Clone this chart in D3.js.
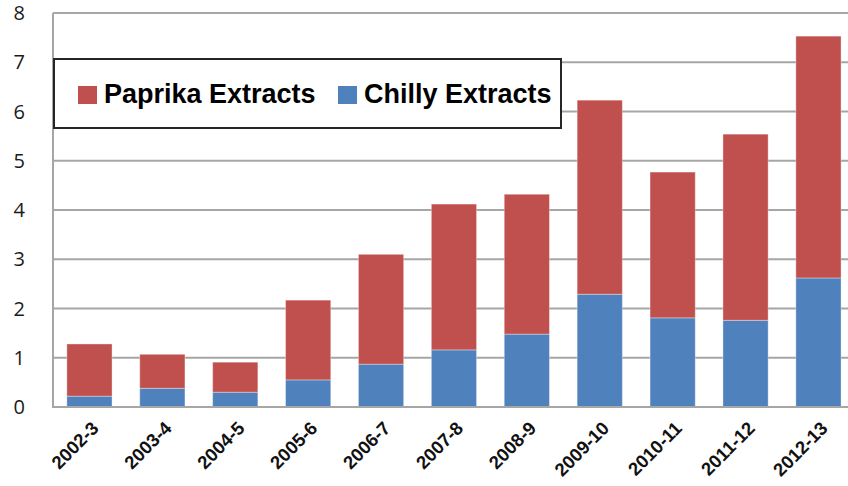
<!DOCTYPE html>
<html>
<head>
<meta charset="utf-8">
<script src="https://cdn.jsdelivr.net/npm/d3@7/dist/d3.min.js"></script>
<style>
  html, body { margin: 0; padding: 0; background: #fff; }
  svg { display: block; }
</style>
</head>
<body>
<svg id="chart" width="848" height="486"></svg>
<script>
// Annual extract volumes, split into chilly and paprika portions (stacked)
const years = ["2002-3", "2003-4", "2004-5", "2005-6", "2006-7", "2007-8",
               "2008-9", "2009-10", "2010-11", "2011-12", "2012-13"];
const chillyValues  = [0.22, 0.38, 0.30, 0.55, 0.87, 1.16, 1.48, 2.29, 1.81, 1.76, 2.62];
const paprikaValues = [1.06, 0.69, 0.61, 1.62, 2.23, 2.96, 2.84, 3.94, 2.96, 3.78, 4.91];
const yTicks = [0, 1, 2, 3, 4, 5, 6, 7, 8];
const seriesNames = ["Paprika Extracts", "Chilly Extracts"];

const W = 848, H = 486;
const plotLeft = 53, plotTop = 13, plotBottom = 407;
const colors = { chilly: "#4F81BD", paprika: "#C0504D" };

const svg = d3.select("#chart");

const x = d3.scaleBand()
  .domain(years)
  .range([plotLeft, plotLeft + 11 * 72.9])
  .paddingInner(0.38)
  .paddingOuter(0.19);

const y = d3.scaleLinear().domain([0, 8]).range([plotBottom, plotTop]);

// Horizontal gridlines
svg.append("g").selectAll("line")
  .data(yTicks.filter(d => d > 0))
  .join("line")
  .attr("x1", plotLeft).attr("x2", W)
  .attr("y1", d => y(d)).attr("y2", d => y(d))
  .attr("stroke", "#a6a6a6").attr("stroke-width", 2);

// Y tick labels
svg.append("g").selectAll("text")
  .data(yTicks)
  .join("text")
  .attr("x", 25).attr("y", d => y(d))
  .attr("dy", "0.36em")
  .attr("text-anchor", "end")
  .attr("font-family", "'Open Sans', 'Liberation Sans', sans-serif")
  .attr("font-size", 20)
  .attr("fill", "#1a1a1a")
  .text(d => d);

// Stacked data
const stackData = years.map((yr, i) => ({ year: yr, chilly: chillyValues[i], paprika: paprikaValues[i] }));
const stacked = d3.stack().keys(["chilly", "paprika"])(stackData);

svg.append("g").selectAll("g")
  .data(stacked)
  .join("g")
  .attr("fill", s => colors[s.key])
  .selectAll("rect")
  .data(s => s)
  .join("rect")
  .attr("x", d => x(d.data.year))
  .attr("width", x.bandwidth())
  .attr("y", d => y(d[1]))
  .attr("height", d => y(d[0]) - y(d[1]))
  .attr("stroke", "rgba(255,255,255,0.35)")
  .attr("stroke-width", 1);

// Axis lines
svg.append("line")
  .attr("x1", plotLeft).attr("x2", plotLeft)
  .attr("y1", plotTop).attr("y2", plotBottom + 1)
  .attr("stroke", "#a6a6a6").attr("stroke-width", 2);
svg.append("line")
  .attr("x1", plotLeft).attr("x2", W)
  .attr("y1", plotBottom).attr("y2", plotBottom)
  .attr("stroke", "#a6a6a6").attr("stroke-width", 2);

// Rotated category labels
svg.append("g").selectAll("text")
  .data(years)
  .join("text")
  .attr("transform", d => `translate(${x(d) + x.bandwidth() / 2 + 1},${plotBottom + 13}) rotate(-45)`)
  .attr("text-anchor", "end")
  .attr("dy", "0.72em")
  .attr("font-family", "'Liberation Sans', Arial, sans-serif")
  .attr("font-weight", "bold")
  .attr("font-size", 18.5)
  .attr("fill", "#111")
  .text(d => d);

// Legend
const legend = svg.append("g");
legend.append("rect")
  .attr("x", 54).attr("y", 59).attr("width", 507).attr("height", 69)
  .attr("fill", "#fff").attr("stroke", "#262626").attr("stroke-width", 2);

const legendItems = [
  { name: seriesNames[0], color: colors.paprika, sx: 78, tx: 104 },
  { name: seriesNames[1], color: colors.chilly, sx: 338, tx: 364 }
];
const li = legend.selectAll("g.item").data(legendItems).join("g").attr("class", "item");
li.append("rect")
  .attr("x", d => d.sx).attr("y", 86).attr("width", 19).attr("height", 18)
  .attr("fill", d => d.color);
li.append("text")
  .attr("x", d => d.tx).attr("y", 103)
  .attr("font-family", "'Liberation Sans', Arial, sans-serif")
  .attr("font-weight", "bold")
  .attr("font-size", 27)
  .attr("fill", "#000")
  .text(d => d.name);
</script>
</body>
</html>
